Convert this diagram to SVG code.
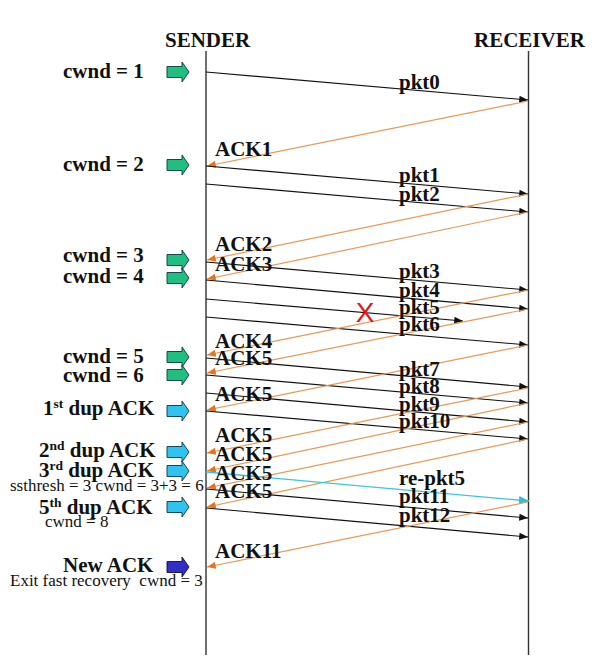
<svg xmlns="http://www.w3.org/2000/svg" width="605" height="669" viewBox="0 0 605 669">
<style>
.b{font-family:"Liberation Serif","Times New Roman",serif;font-weight:bold;font-size:21px;fill:#111}
.n{font-family:"Liberation Serif","Times New Roman",serif;font-size:17px;fill:#111}
.sup{font-size:13.5px}
.life{stroke:#333;stroke-width:1.4;fill:none}
.pkt{stroke:#111;stroke-width:1.1;fill:none;marker-end:url(#ah)}
.ack{stroke:#e69a55;stroke-width:1.2;fill:none;marker-end:url(#ao)}
.re{stroke:#3cc4dc;stroke-width:1.3;fill:none;marker-end:url(#ac)}
.ga{fill:#1fbf80;stroke:#134;stroke-width:0.9}
.ca{fill:#2ec3f0;stroke:#134;stroke-width:0.9}
.da{fill:#3030c8;stroke:#112;stroke-width:0.9}
</style>
<defs>
<marker id="ah" viewBox="0 0 10 8" refX="10" refY="4" markerWidth="9" markerHeight="7" markerUnits="userSpaceOnUse" orient="auto"><path d="M0,0 L10,4 L0,8 z" fill="#111"/></marker>
<marker id="ao" viewBox="0 0 10 8" refX="10" refY="4" markerWidth="9" markerHeight="7" markerUnits="userSpaceOnUse" orient="auto"><path d="M0,0 L10,4 L0,8 z" fill="#e8731c"/></marker>
<marker id="ac" viewBox="0 0 10 8" refX="10" refY="4" markerWidth="10" markerHeight="8" markerUnits="userSpaceOnUse" orient="auto"><path d="M0,0 L10,4 L0,8 z" fill="#30bcd8"/></marker>
<path id="blk" d="M0,-5.5 H15 V-10 L22,0 L15,10 V5.5 H0 Z"/>
</defs>
<rect width="605" height="669" fill="#fff"/>

<g id="sender">
<text class="b" x="165" y="47">SENDER</text>
<line class="life" x1="206" y1="51" x2="206" y2="655"/>
</g>
<g id="receiver">
<text class="b" x="474" y="47">RECEIVER</text>
<line class="life" x1="528.5" y1="51" x2="528.5" y2="655"/>
</g>

<g id="state-cwnd1"><text class="b" x="63" y="78">cwnd = 1</text><use href="#blk" class="ga" x="167" y="72"/></g>
<g id="state-cwnd2"><text class="b" x="63" y="171">cwnd = 2</text><use href="#blk" class="ga" x="167" y="165"/></g>
<g id="state-cwnd3"><text class="b" x="63" y="262">cwnd = 3</text><use href="#blk" class="ga" x="167" y="260"/></g>
<g id="state-cwnd4"><text class="b" x="63" y="283">cwnd = 4</text><use href="#blk" class="ga" x="167" y="278"/></g>
<g id="state-cwnd5"><text class="b" x="63" y="363">cwnd = 5</text><use href="#blk" class="ga" x="167" y="357"/></g>
<g id="state-cwnd6"><text class="b" x="63" y="382">cwnd = 6</text><use href="#blk" class="ga" x="167" y="375"/></g>
<g id="state-dup1"><text class="b" x="43" y="415">1<tspan class="sup" dy="-7">st</tspan><tspan dy="7"> dup ACK</tspan></text><use href="#blk" class="ca" x="167" y="411"/></g>
<g id="state-dup2"><text class="b" x="39" y="457">2<tspan class="sup" dy="-7">nd</tspan><tspan dy="7"> dup ACK</tspan></text><use href="#blk" class="ca" x="167" y="452"/></g>
<g id="state-dup3"><text class="b" x="39" y="477">3<tspan class="sup" dy="-7">rd</tspan><tspan dy="7"> dup ACK</tspan></text><use href="#blk" class="ca" x="167" y="471"/>
<text class="n" x="10" y="491">ssthresh = 3 cwnd = 3+3 = 6</text></g>
<g id="state-dup5"><text class="b" x="39" y="514">5<tspan class="sup" dy="-7">th</tspan><tspan dy="7"> dup ACK</tspan></text><use href="#blk" class="ca" x="167" y="507"/>
<text class="n" x="45" y="527">cwnd = 8</text></g>
<g id="state-newack"><text class="b" x="63" y="572">New ACK</text><use href="#blk" class="da" x="167" y="567"/>
<text class="n" x="10" y="586">Exit fast recovery&#160; cwnd = 3</text></g>

<g id="connectors">
<line class="pkt" x1="206" y1="72" x2="528" y2="100"/>
<line class="ack" x1="528" y1="101" x2="207" y2="166"/>
<line class="pkt" x1="206" y1="166" x2="528" y2="194"/>
<line class="pkt" x1="206" y1="184" x2="528" y2="212"/>
<line class="ack" x1="528" y1="194" x2="207" y2="260"/>
<line class="ack" x1="528" y1="212" x2="207" y2="279"/>
<line class="pkt" x1="206" y1="262" x2="528" y2="290"/>
<line class="pkt" x1="206" y1="280" x2="528" y2="309"/>
<line class="pkt" x1="206" y1="299" x2="463" y2="321"/>
<line class="pkt" x1="206" y1="317" x2="528" y2="345"/>
<line class="ack" x1="528" y1="290" x2="207" y2="355"/>
<line class="ack" x1="528" y1="309" x2="207" y2="373"/>
<line class="pkt" x1="206" y1="358" x2="528" y2="387"/>
<line class="pkt" x1="206" y1="375" x2="528" y2="403"/>
<line class="ack" x1="528" y1="345" x2="207" y2="410"/>
<line class="pkt" x1="206" y1="393" x2="528" y2="422"/>
<line class="pkt" x1="206" y1="411" x2="528" y2="439"/>
<line class="ack" x1="528" y1="388" x2="207" y2="453"/>
<line class="ack" x1="528" y1="403" x2="207" y2="471"/>
<line class="ack" x1="528" y1="422" x2="207" y2="488"/>
<line class="ack" x1="528" y1="439" x2="207" y2="507"/>
<line class="re" x1="206" y1="472" x2="529" y2="501"/>
<line class="pkt" x1="206" y1="489" x2="528" y2="518"/>
<line class="pkt" x1="206" y1="508" x2="528" y2="537"/>
<line class="ack" x1="528" y1="502" x2="207" y2="567"/>

<text class="b" x="399" y="89">pkt0</text>
<text class="b" x="399" y="182">pkt1</text>
<text class="b" x="399" y="201">pkt2</text>
<text class="b" x="399" y="278">pkt3</text>
<text class="b" x="399" y="297">pkt4</text>
<text class="b" x="399" y="314">pkt5</text>
<text class="b" x="399" y="331">pkt6</text>
<text class="b" x="399" y="376">pkt7</text>
<text class="b" x="399" y="393">pkt8</text>
<text class="b" x="399" y="411">pkt9</text>
<text class="b" x="399" y="428">pkt10</text>
<text class="b" x="399" y="485">re-pkt5</text>
<text class="b" x="399" y="503">pkt11</text>
<text class="b" x="399" y="522">pkt12</text>

<text class="b" x="215" y="156">ACK1</text>
<text class="b" x="215" y="251">ACK2</text>
<text class="b" x="215" y="271">ACK3</text>
<text class="b" x="215" y="348">ACK4</text>
<text class="b" x="215" y="365">ACK5</text>
<text class="b" x="215" y="401">ACK5</text>
<text class="b" x="215" y="442">ACK5</text>
<text class="b" x="215" y="461">ACK5</text>
<text class="b" x="215" y="480">ACK5</text>
<text class="b" x="215" y="498">ACK5</text>
<text class="b" x="215" y="558">ACK11</text>

<text x="365" y="322" text-anchor="middle" style="font-family:'Liberation Sans',Arial,sans-serif;font-size:28px;fill:#e01818">X</text>
</g>
</svg>
